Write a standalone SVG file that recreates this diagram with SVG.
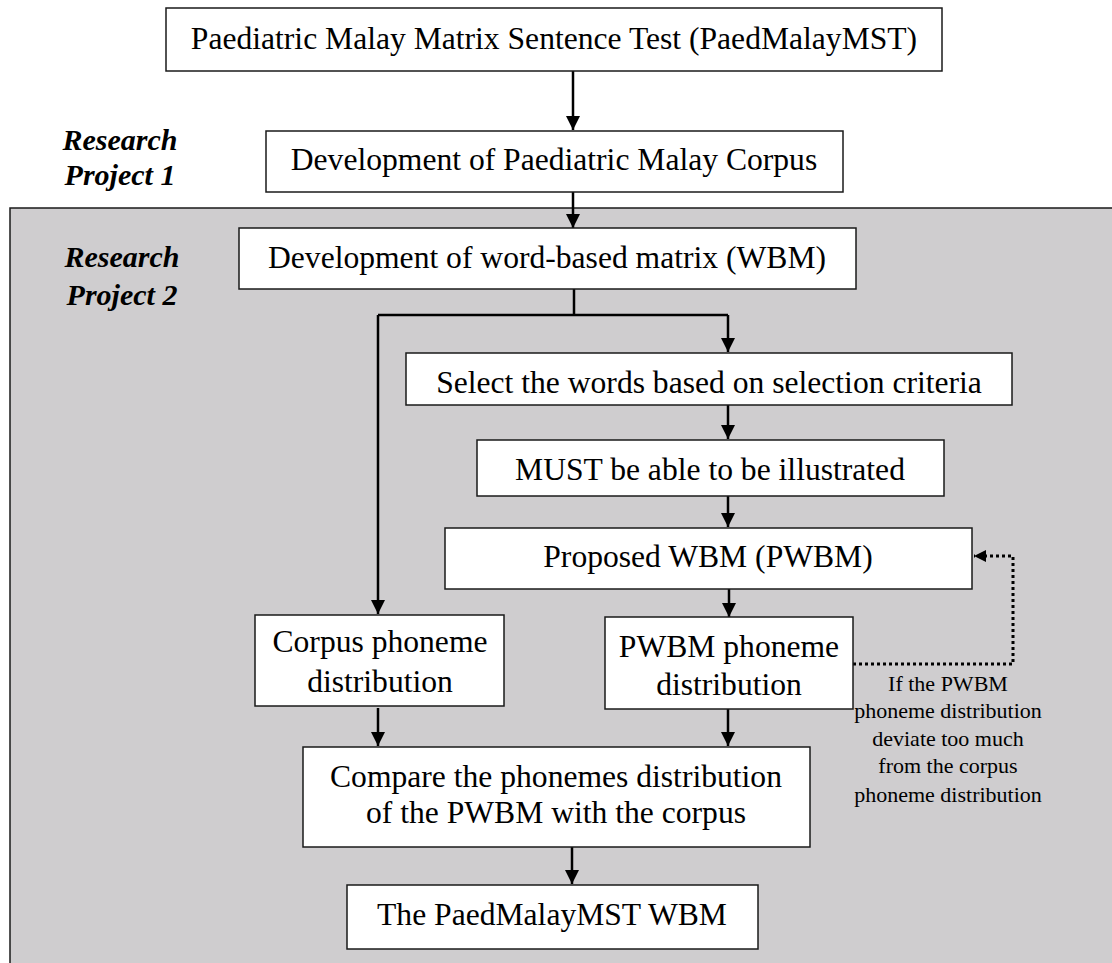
<svg xmlns="http://www.w3.org/2000/svg" width="1112" height="963" viewBox="0 0 1112 963">
<style>
.box{fill:#fff;stroke:#1a1a1a;stroke-width:1.5}
.t{font-family:"Liberation Serif","Times New Roman",serif;font-size:31.6px;fill:#000;text-anchor:middle}
.lab{font-family:"Liberation Serif","Times New Roman",serif;font-size:30px;font-weight:bold;font-style:italic;fill:#000;text-anchor:middle}
.note{font-family:"Liberation Serif","Times New Roman",serif;font-size:22px;fill:#000;text-anchor:middle}
.c{fill:none;stroke:#000;stroke-width:2.5}
.d{fill:none;stroke:#000;stroke-width:3;stroke-dasharray:3 3}
</style>
<defs>
<marker id="ah" markerUnits="userSpaceOnUse" markerWidth="14" markerHeight="14" refX="14" refY="7" orient="auto">
<path d="M0,0 L14,7 L0,14 z" fill="#000"/>
</marker>
<marker id="ahs" markerUnits="userSpaceOnUse" markerWidth="12" markerHeight="12" refX="12" refY="6" orient="auto">
<path d="M0,0 L12,6 L0,12 z" fill="#000"/>
</marker>
</defs>
<rect id="project2-area" x="10" y="208" width="1110" height="770" fill="#cfcdcf" stroke="#1a1a1a" stroke-width="1.5"/>
<g id="label-rp1"><text class="lab" x="120" y="150">Research</text><text class="lab" x="120" y="185">Project 1</text></g>
<g id="label-rp2"><text class="lab" x="122" y="267">Research</text><text class="lab" x="122" y="305">Project 2</text></g>
<g id="connectors">
<line class="c" x1="573" y1="71" x2="573" y2="130" marker-end="url(#ah)"/>
<line class="c" x1="573" y1="192" x2="573" y2="228" marker-end="url(#ah)"/>
<polyline class="c" points="574,289 574,315"/>
<polyline class="c" points="378,315 728,315"/>
<polyline class="c" points="378,315 378,614" marker-end="url(#ah)"/>
<polyline class="c" points="728,315 728,352" marker-end="url(#ah)"/>
<line class="c" x1="728" y1="405" x2="728" y2="439" marker-end="url(#ah)"/>
<line class="c" x1="728" y1="496" x2="728" y2="527" marker-end="url(#ah)"/>
<line class="c" x1="729" y1="589" x2="729" y2="617" marker-end="url(#ah)"/>
<line class="c" x1="378" y1="708" x2="378" y2="746" marker-end="url(#ah)"/>
<line class="c" x1="728" y1="709" x2="728" y2="746" marker-end="url(#ah)"/>
<line class="c" x1="572" y1="847" x2="572" y2="884" marker-end="url(#ah)"/>
<polyline class="d" points="853,664 1013,664 1013,556 974,556" marker-end="url(#ahs)"/>
</g>
<g id="n-top"><rect class="box" x="166" y="8" width="776" height="63"/><text class="t" x="554" y="49">Paediatric Malay Matrix Sentence Test (PaedMalayMST)</text></g>
<g id="n-corpus"><rect class="box" x="266" y="131" width="577" height="61"/><text class="t" x="554" y="170">Development of Paediatric Malay Corpus</text></g>
<g id="n-wbm"><rect class="box" x="239" y="228" width="617" height="61"/><text class="t" x="547" y="268">Development of word-based matrix (WBM)</text></g>
<g id="n-select"><rect class="box" x="406" y="353" width="606" height="52"/><text class="t" x="709" y="393">Select the words based on selection criteria</text></g>
<g id="n-must"><rect class="box" x="477" y="440" width="467" height="56"/><text class="t" x="710" y="480">MUST be able to be illustrated</text></g>
<g id="n-pwbm"><rect class="box" x="445" y="528" width="527" height="61"/><text class="t" x="708" y="567">Proposed WBM (PWBM)</text></g>
<g id="n-cpd"><rect class="box" x="255" y="615" width="249" height="91"/><text class="t" x="380" y="652">Corpus phoneme</text><text class="t" x="380" y="692">distribution</text></g>
<g id="n-ppd"><rect class="box" x="605" y="617" width="248" height="92"/><text class="t" x="729" y="657">PWBM phoneme</text><text class="t" x="729" y="695">distribution</text></g>
<g id="n-compare"><rect class="box" x="303" y="747" width="507" height="100"/><text class="t" x="556" y="787">Compare the phonemes distribution</text><text class="t" x="556" y="823">of the PWBM with the corpus</text></g>
<g id="n-final"><rect class="box" x="347" y="885" width="411" height="64"/><text class="t" x="552" y="925">The PaedMalayMST WBM</text></g>
<g id="note"><text class="note" x="948" y="691">If the PWBM</text><text class="note" x="948" y="718">phoneme distribution</text><text class="note" x="948" y="746">deviate too much</text><text class="note" x="948" y="773">from the corpus</text><text class="note" x="948" y="802">phoneme distribution</text></g>
</svg>
